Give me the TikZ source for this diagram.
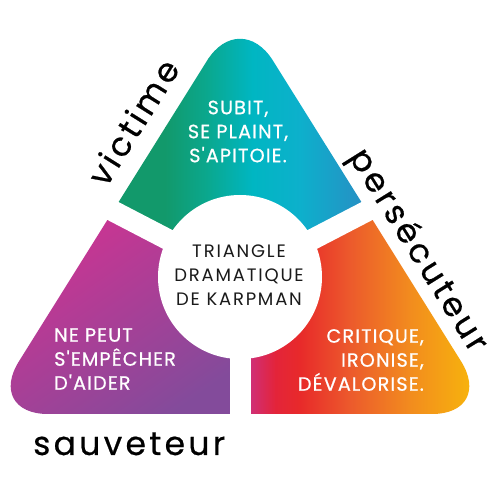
\documentclass[tikz,border=0pt]{standalone}
\usepackage{fontspec}
\usetikzlibrary{calc}
\newfontfamily\popin{Poppins}[LetterSpace=6, FakeBold=0.7]
\newfontfamily\popc{Poppins}[LetterSpace=10]
\newfontfamily\popl{Poppins}[LetterSpace=10, FakeBold=0.6]
\definecolor{gA}{HTML}{12996B}
\definecolor{gB}{HTML}{0AA88F}
\definecolor{gC}{HTML}{00B6C2}
\definecolor{gD}{HTML}{0DB0CC}
\definecolor{gE}{HTML}{2D87C2}
\definecolor{mag}{HTML}{D23291}
\definecolor{pur}{HTML}{834B9B}
\definecolor{rA}{HTML}{C8338E}
\definecolor{rB}{HTML}{E3243A}
\definecolor{rC}{HTML}{E82A2A}
\definecolor{rD}{HTML}{EC5A2C}
\definecolor{rE}{HTML}{F28C1E}
\definecolor{rF}{HTML}{F8B90A}
\definecolor{ink}{HTML}{1A1A1A}
\tikzset{
  inner/.style={text=white, inner sep=0pt, font=\popin\fontsize{19.2}{24}\selectfont},
  centre/.style={text=ink, inner sep=0pt, align=center, font=\popc\fontsize{18}{24}\selectfont},
  role/.style={text=black, inner sep=0pt, font=\popl\fontsize{33}{36}\selectfont},
  band/.style={white, line width=21pt}
}
\begin{document}
\begin{tikzpicture}[x=1pt,y=1pt]
\useasboundingbox (0,0) rectangle (500,500);
\fill[white] (0,0) rectangle (500,500);
\coordinate (A) at (240,492);
\coordinate (B) at (-14,86);
\coordinate (C) at (494,86);
\coordinate (O) at (240,223);
\coordinate (MAB) at ($(A)!0.5!(B)$);
\coordinate (MAC) at ($(A)!0.5!(C)$);
\coordinate (MBC) at ($(B)!0.5!(C)$);
\begin{scope}
  \clip[rounded corners=62pt] (A) -- (B) -- (C) -- cycle;
  % top piece: victime
  \begin{scope}
    \clip (O) -- ($(O)!3!(MAB)$) -- (240,900) -- ($(O)!3!(MAC)$) -- cycle;
    \shade[left color=gA, right color=gA] (100,150) rectangle (165.5,500);
    \shade[left color=gA, right color=gB] (165,150) rectangle (208.5,500);
    \shade[left color=gB, right color=gC] (208,150) rectangle (252.5,500);
    \shade[left color=gC, right color=gD] (252,150) rectangle (300.5,500);
    \shade[left color=gD, right color=gE] (300,150) rectangle (380,500);
  \end{scope}
  % bottom left: sauveteur
  \begin{scope}
    \clip (O) -- ($(O)!3!(MAB)$) -- (-400,-300) -- (240,-300) -- cycle;
    \shade[top color=mag, middle color=mag!88!pur, bottom color=pur, shading angle=35] (0,80) rectangle (240,300);
  \end{scope}
  % bottom right: persecuteur
  \begin{scope}
    \clip (O) -- ($(O)!3!(MAC)$) -- (900,-300) -- (240,-300) -- cycle;
    \shade[left color=rA, right color=rB] (240,50) rectangle (275.5,320);
    \shade[left color=rB, right color=rC] (275,50) rectangle (300.5,320);
    \shade[left color=rC, right color=rD] (300,50) rectangle (350.5,320);
    \shade[left color=rD, right color=rE] (350,50) rectangle (410.5,320);
    \shade[left color=rE, right color=rF] (410,50) rectangle (480,320);
  \end{scope}
\end{scope}
% white separators
\draw[band] (O) -- ($(O)!2!(MAB)$);
\draw[band] (O) -- ($(O)!2!(MAC)$);
\draw[band] (O) -- ($(O)!2!(MBC)$);
\fill[white] (O) circle[radius=82];
% texts
\node[inner, align=center] (tv) at (238,368.5) {SUBIT,\\SE PLAINT,\\S'APITOIE.};
\node[centre] (tc) at (239,224.5) {TRIANGLE\\DRAMATIQUE\\DE KARPMAN};
\node[inner, align=left, anchor=west] (ts) at (54,141) {NE PEUT\\S'EMPÊCHER\\D'AIDER};
\node[inner, align=right, anchor=east] (tp) at (424,140) {CRITIQUE,\\IRONISE,\\DÉVALORISE.};
\node[role, rotate=58] (lv) at (133,378) {victime};
\node[role, rotate=-58] (lp) at (417,249) {persécuteur};
\node[role, anchor=base west] (ls) at (33,45) {sauveteur};
\end{tikzpicture}
\end{document}
